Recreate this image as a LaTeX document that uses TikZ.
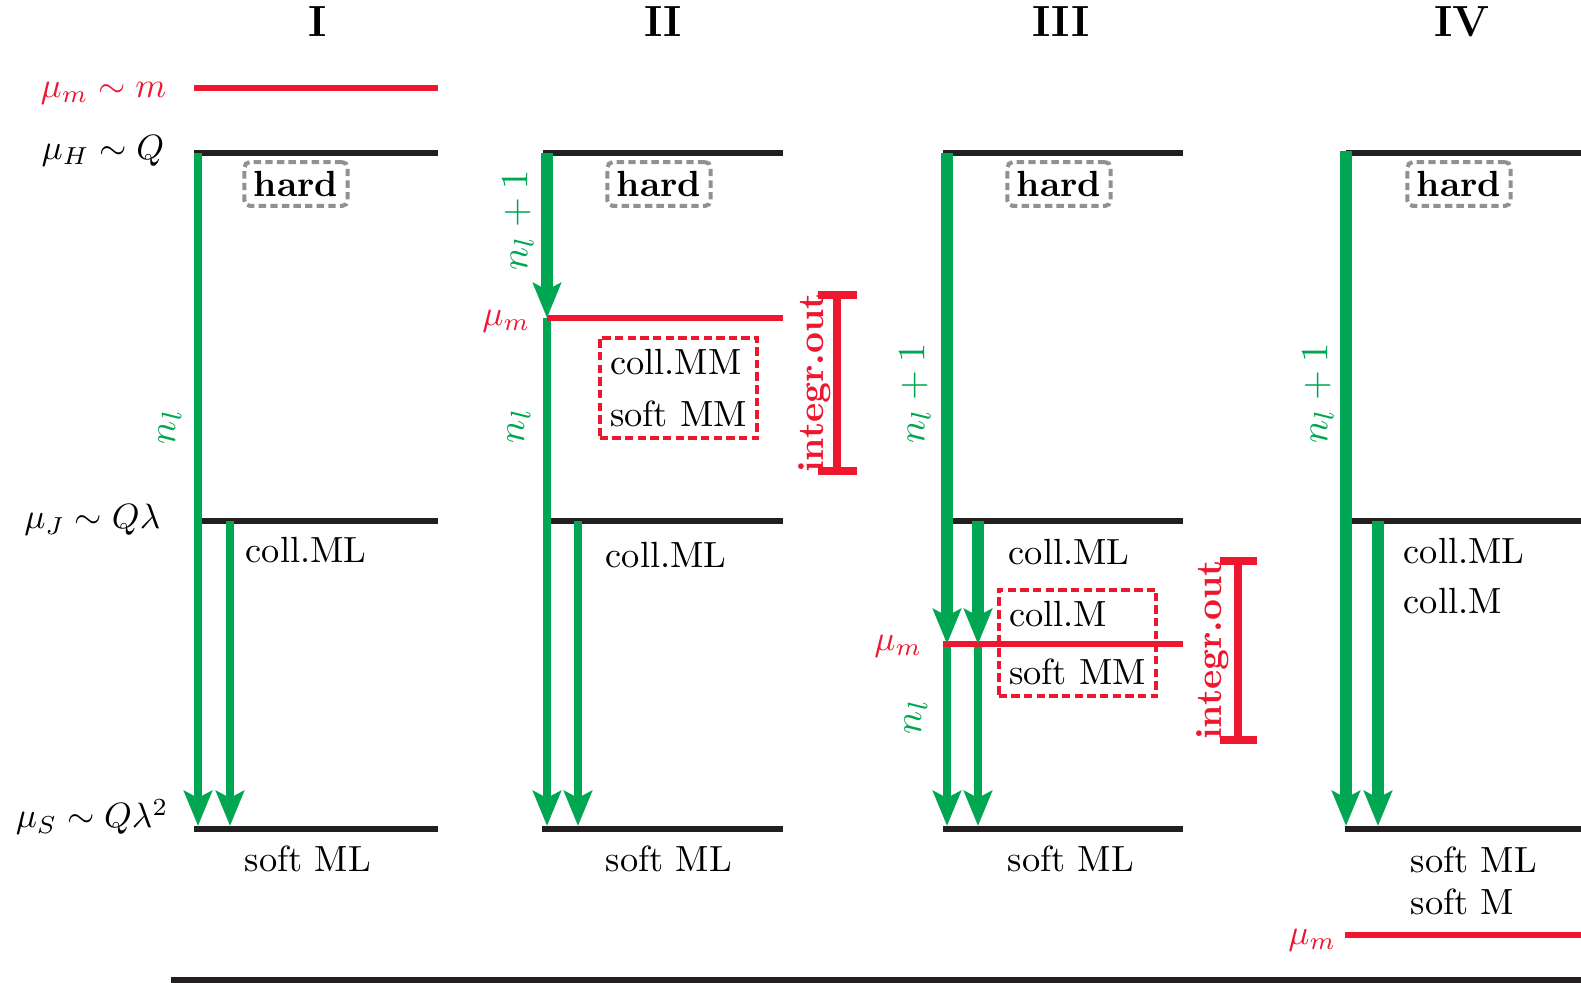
\documentclass[tikz,border=0pt]{standalone}
\usetikzlibrary{arrows.meta}
\definecolor{lvlblack}{RGB}{35,31,32}
\definecolor{grn}{RGB}{0,166,81}
\definecolor{rd}{RGB}{237,24,48}
\definecolor{gry}{RGB}{145,145,148}
\newcommand{\basefnt}{\fontsize{10.35}{12.4}\selectfont}
\begin{document}
\begin{tikzpicture}[x=0.01cm,y=-0.01cm,
  every node/.style={font=\basefnt},
  level/.style={draw=lvlblack,line width=1.75pt},
  mlevel/.style={draw=rd,line width=1.75pt},
  thin flow/.style={draw=grn,line width=2pt,-{Stealth[length=0.35cm,width=0.28cm,inset=0.07cm]}},
  thick flow/.style={draw=grn,line width=3.3pt,-{Stealth[length=0.35cm,width=0.28cm,inset=0.07cm]}},
  hardbox/.style={draw=gry,line width=1.15pt,dash pattern=on 2.1pt off 1.2pt,rounded corners=1.5pt,font=\basefnt\bfseries,inner xsep=2.7pt,inner ysep=2.6pt},
  mbox/.style={draw=rd,line width=1.15pt,dash pattern=on 2.4pt off 1.2pt,align=left,inner xsep=3pt,inner ysep=3.3pt},
  head/.style={font=\fontsize{12.4}{15}\selectfont\bfseries},
  scalelab/.style={anchor=east,inner sep=0pt},
  mlab/.style={anchor=east,inner sep=0pt,text=rd},
  nlab/.style={rotate=90,text=grn,inner sep=0pt,font=\fontsize{11.2}{13}\selectfont},
  intlab/.style={rotate=90,text=rd,font=\basefnt\bfseries,inner sep=0pt},
  brk/.style={draw=rd,line width=2.2pt},
  txt/.style={anchor=west,inner sep=0pt}]
\useasboundingbox (0,0) rectangle (1581,983);

% headers
\node[head] (hI) at (318,22) {I};
\node[head] (hII) at (663,22) {II};
\node[head] (hIII) at (1061,22) {III};
\node[head] (hIV) at (1462,22) {IV};

% scale labels
\node[mlab] (lm) at (167,93) {$\mu_m\sim m$};
\node[scalelab] (lH) at (165,151) {$\mu_H\sim Q$};
\node[scalelab] (lJ) at (161,520) {$\mu_J\sim Q\lambda$};
\node[scalelab] (lS) at (169,817) {$\mu_S\sim Q\lambda^2$};

% ---------- Column I ----------
\coordinate (I-m-l) at (194,88); \coordinate (I-m-r) at (438,88);
\coordinate (I-H-l) at (194,153); \coordinate (I-H-r) at (438,153);
\coordinate (I-J-l) at (200,521); \coordinate (I-J-r) at (438,521);
\coordinate (I-S-l) at (194,829); \coordinate (I-S-r) at (438,829);
\coordinate (I-a0) at (198,153); \coordinate (I-a1) at (198,826);
\coordinate (I-b0) at (230,521); \coordinate (I-b1) at (230,826);
\draw[mlevel] (I-m-l) -- (I-m-r);
\draw[level] (I-H-l) -- (I-H-r);
\draw[level] (I-J-l) -- (I-J-r);
\draw[level] (I-S-l) -- (I-S-r);
\draw[thin flow] (I-a0) -- (I-a1);
\draw[thin flow] (I-b0) -- (I-b1);
\node[hardbox] (I-hard) at (296,184) {hard};
\node[txt] (I-coll) at (245,550) {coll.ML};
\node[txt] (I-soft) at (244,859) {soft ML};
\node[nlab] (I-n) at (170,427) {$n_l$};

% ---------- Column II ----------
\coordinate (II-H-l) at (543,153); \coordinate (II-H-r) at (783,153);
\coordinate (II-m-l) at (547,318); \coordinate (II-m-r) at (783,318);
\coordinate (II-J-l) at (549,521); \coordinate (II-J-r) at (783,521);
\coordinate (II-S-l) at (542,829); \coordinate (II-S-r) at (783,829);
\coordinate (II-a0) at (547,153); \coordinate (II-a1) at (547,318); \coordinate (II-a2) at (547,826);
\coordinate (II-b0) at (578,521); \coordinate (II-b1) at (578,826);
\draw[level] (II-H-l) -- (II-H-r);
\draw[level] (II-J-l) -- (II-J-r);
\draw[level] (II-S-l) -- (II-S-r);
\draw[thin flow] (II-a1) -- (II-a2);
\draw[thin flow] (II-b0) -- (II-b1);
\draw[mlevel] (II-m-l) -- (II-m-r);
\draw[thick flow] (II-a0) -- (II-a1);
\node[hardbox] (II-hard) at (659,184) {hard};
\node[mbox] (II-box) at (678.5,388) {coll.MM\\[2.3pt]soft MM};
\node[txt] (II-coll) at (605,555) {coll.ML};
\node[txt] (II-soft) at (605,859) {soft ML};
\node[mlab] (II-ml) at (531,321) {$\mu_m$};
\node[nlab] (II-n1) at (518,220) {$n_l+1$};
\node[nlab] (II-n) at (519,426) {$n_l$};
\coordinate (II-k0) at (837,295); \coordinate (II-k1) at (837,471);
\coordinate (II-k0l) at (818,295); \coordinate (II-k0r) at (857,295);
\coordinate (II-k1l) at (818,471); \coordinate (II-k1r) at (857,471);
\draw[brk] (II-k0) -- (II-k1);
\draw[brk] (II-k0l) -- (II-k0r);
\draw[brk] (II-k1l) -- (II-k1r);
\node[intlab] (II-int) at (815,383) {integr.out};

% ---------- Column III ----------
\coordinate (III-H-l) at (943,153); \coordinate (III-H-r) at (1183,153);
\coordinate (III-J-l) at (953,521); \coordinate (III-J-r) at (1183,521);
\coordinate (III-m-l) at (943,644); \coordinate (III-m-r) at (1183,644);
\coordinate (III-S-l) at (943,829); \coordinate (III-S-r) at (1183,829);
\coordinate (III-a0) at (947,153); \coordinate (III-a1) at (947,644); \coordinate (III-a2) at (947,826);
\coordinate (III-b0) at (978,521); \coordinate (III-b1) at (978,644); \coordinate (III-b2) at (978,826);
\draw[level] (III-H-l) -- (III-H-r);
\draw[level] (III-J-l) -- (III-J-r);
\draw[level] (III-S-l) -- (III-S-r);
\draw[thin flow] (III-a1) -- (III-a2);
\draw[thin flow] (III-b1) -- (III-b2);
\node[mbox] (III-box) at (1077.5,643) {coll.M\\[4.1pt]soft MM};
\draw[mlevel] (III-m-l) -- (III-m-r);
\draw[thick flow] (III-a0) -- (III-a1);
\draw[thick flow] (III-b0) -- (III-b1);
\node[hardbox] (III-hard) at (1059,184) {hard};
\node[txt] (III-coll) at (1008,552) {coll.ML};
\node[txt] (III-soft) at (1007,859) {soft ML};
\node[mlab] (III-ml) at (923,646) {$\mu_m$};
\node[nlab] (III-n1) at (915,393) {$n_l+1$};
\node[nlab] (III-n) at (916,717) {$n_l$};
\coordinate (III-k0) at (1238,561); \coordinate (III-k1) at (1238,740);
\coordinate (III-k0l) at (1220,561); \coordinate (III-k0r) at (1257,561);
\coordinate (III-k1l) at (1220,740); \coordinate (III-k1r) at (1257,740);
\draw[brk] (III-k0) -- (III-k1);
\draw[brk] (III-k0l) -- (III-k0r);
\draw[brk] (III-k1l) -- (III-k1r);
\node[intlab] (III-int) at (1213,650) {integr.out};

% ---------- Column IV ----------
\coordinate (IV-H-l) at (1346,153); \coordinate (IV-H-r) at (1581,153);
\coordinate (IV-J-l) at (1352,521); \coordinate (IV-J-r) at (1581,521);
\coordinate (IV-S-l) at (1345,829); \coordinate (IV-S-r) at (1581,829);
\coordinate (IV-m-l) at (1345,935); \coordinate (IV-m-r) at (1581,935);
\coordinate (IV-a0) at (1346,151); \coordinate (IV-a1) at (1346,826);
\coordinate (IV-b0) at (1378,521); \coordinate (IV-b1) at (1378,826);
\draw[level] (IV-H-l) -- (IV-H-r);
\draw[level] (IV-J-l) -- (IV-J-r);
\draw[level] (IV-S-l) -- (IV-S-r);
\draw[mlevel] (IV-m-l) -- (IV-m-r);
\draw[thick flow] (IV-a0) -- (IV-a1);
\draw[thick flow] (IV-b0) -- (IV-b1);
\node[hardbox] (IV-hard) at (1459,184) {hard};
\node[txt] (IV-coll) at (1403,551) {coll.ML};
\node[txt] (IV-collM) at (1403,601) {coll.M};
\node[txt] (IV-soft) at (1410,860) {soft ML};
\node[txt] (IV-softM) at (1410,902) {soft M};
\node[mlab] (IV-ml) at (1337,940) {$\mu_m$};
\node[nlab] (IV-n1) at (1318,393) {$n_l+1$};

% bottom rule
\coordinate (bot-l) at (171,980); \coordinate (bot-r) at (1581,980);
\draw[level] (bot-l) -- (bot-r);
\end{tikzpicture}
\end{document}
